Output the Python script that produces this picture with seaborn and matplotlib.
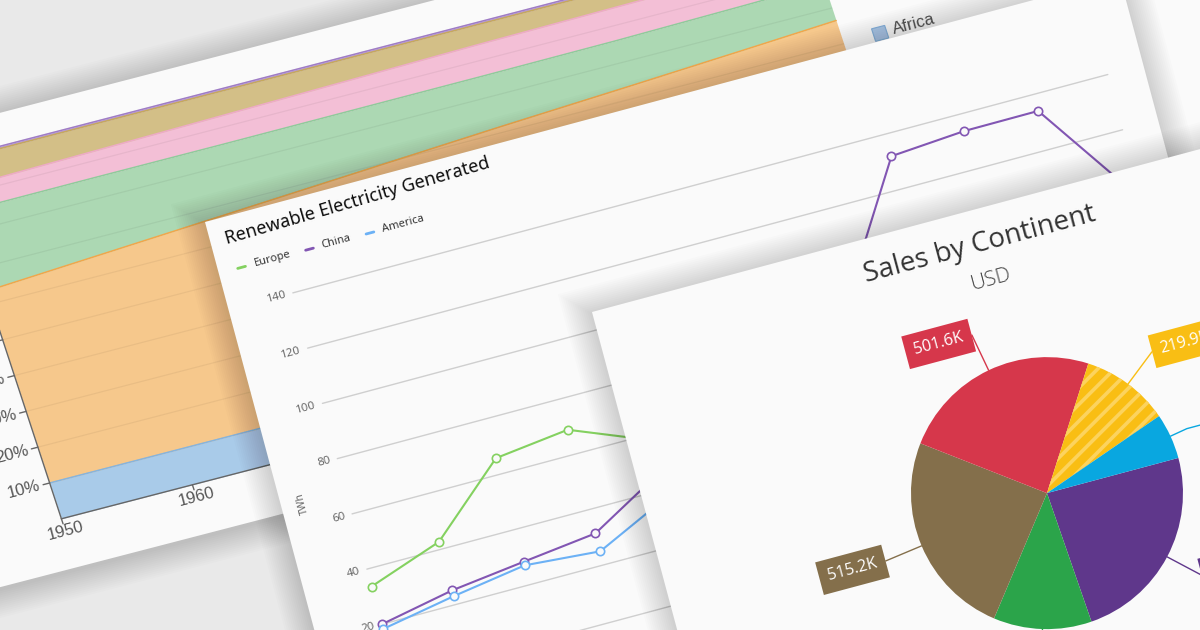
import numpy as np
import pandas as pd
import matplotlib
matplotlib.use("Agg")
import matplotlib.pyplot as plt
from matplotlib.transforms import Affine2D
from matplotlib.patches import Polygon
import seaborn as sns

# ---------------- data ----------------
# Panel 1: 100% stacked area (share, %)
AREA_YEARS = [1950, 1960, 1970, 1980, 1990, 2000, 2010, 2016]
AREA_NAMES = ["Africa", "Asia", "Europe", "North America", "South America", "Oceania"]
area_africa = [10.0, 10.0, 10.0, 10.0, 10.0, 10.0, 10.0, 10.0]
area_asia = [53.6, 55.6, 57.6, 59.6, 61.6, 63.4, 65.3, 66.5]
area_europe = [21.9, 20.0, 18.0, 16.1, 14.2, 12.6, 11.2, 10.4]
area_namerica = [6.3, 6.8, 7.4, 7.9, 8.4, 8.6, 8.5, 8.3]
area_samerica = [7.6, 7.0, 6.4, 5.8, 5.2, 4.8, 4.4, 4.2]
area_oceania = [0.6, 0.6, 0.6, 0.6, 0.6, 0.6, 0.6, 0.6]
AREA_COLORS = ["#a9cbe9", "#f6c88c", "#acd8b3", "#f3bfd6", "#d3bf87", "#b99bd3"]
AREA_EDGES = ["#86b4de", "#f2a64a", "#8fcb9b", "#eeaac8", "#c6a95c", "#9f7cc6"]
AREA_YTICKS = [10, 20, 30, 40, 50, 60, 70, 80, 90, 100]
AREA_XTICKS = [1950, 1960, 1970, 1980, 1990, 2000, 2010]

# Panel 2: renewable electricity (TWh)
LINE_PERIODS = list(range(12))
line_europe = [33.7, 42.7, 65.8, 68.9, 58.0, 62.0, 70.0, 75.0, 80.0, 84.0, 88.0, 90.0]
line_china = [20.0, 25.1, 28.3, 31.4, 46.0, 60.0, 75.0, 89.5, 132.0, 133.9, 134.0, 95.0]
line_america = [18.3, 23.0, 27.0, 24.9, 37.0, 48.0, 60.0, 72.0, 80.0, 85.0, 88.0, 82.0]
LINE_NAMES = ["Europe", "China", "America"]
LINE_COLORS = ["#84d160", "#8256b3", "#6cb1f5"]
LINE_YTICKS = [0, 20, 40, 60, 80, 100, 120, 140]

# Panel 3: sales by continent (K USD)
PIE_NAMES = ["Asia", "Oceania", "Africa", "Europe", "South America", "North America"]
PIE_VALUES = [499.7, 244.3, 515.2, 501.6, 219.9, 113.4]
PIE_COLORS = ["#5f378b", "#2ba44a", "#846f4b", "#d6374b", "#f9be14", "#09a7e0"]
PIE_LEADER_R = [175, 175, 175, 175, 176, 154]
PIE_ELBOW = [0, 0, 0, 0, 0, 30]

# ---------------- setup ----------------
sns.set_theme(style="white")
plt.rcParams["font.family"] = ["DejaVu Sans"]
plt.rcParams["hatch.linewidth"] = 2.6

BG = "#e9e9e9"
CARD = "#fafafa"
fig = plt.figure(figsize=(12, 6.3), dpi=100, facecolor=BG)
ax = fig.add_axes([0, 0, 1, 1])
ax.set_xlim(0, 1200)
ax.set_ylim(630, 0)
ax.set_autoscale_on(False)
ax.axis("off")
SCR = ax.transData


def card_affine(x0, y0, ang):
    t = np.deg2rad(ang)
    return Affine2D(np.array([[np.cos(t), np.sin(t), x0],
                              [-np.sin(t), np.cos(t), y0],
                              [0.0, 0.0, 1.0]]))


def expand_poly(pts, d):
    n = len(pts)
    area = 0.5 * np.sum(pts[:, 0] * np.roll(pts[:, 1], -1) - np.roll(pts[:, 0], -1) * pts[:, 1])
    sgn = 1.0 if area > 0 else -1.0
    out = []
    for k in range(n):
        pp, p, pn = pts[k - 1], pts[k], pts[(k + 1) % n]
        e1, e2 = p - pp, pn - p
        n1 = sgn * np.array([e1[1], -e1[0]]) / np.hypot(*e1)
        n2 = sgn * np.array([e2[1], -e2[0]]) / np.hypot(*e2)
        m = (n1 + n2) / (1.0 + n1 @ n2)
        out.append(p + d * m)
    return np.array(out)


def draw_card(local_pts, tf_local, z):
    pts = tf_local.transform(np.array(local_pts, dtype=float))
    for k in range(14, 0, -1):
        poly = expand_poly(pts, k * 2.0) + np.array([0, 2.0])
        ax.add_patch(Polygon(poly, closed=True, facecolor="black", edgecolor="none",
                             alpha=0.011, zorder=z - 0.5))
    ax.add_patch(Polygon(pts, closed=True, facecolor=CARD, edgecolor="none", zorder=z))


# ================= Panel 1 : stacked area =================
P1 = Affine2D().translate(-1950, 0) + Affine2D(np.array([[13.1, -1.175, 61.4],
                                                          [-3.4, -3.58, 518.8],
                                                          [0, 0, 1.0]]))
ANG1 = np.degrees(np.arctan2(3.4, 13.1))
T1 = P1 + SCR
draw_card([(1880, -13.5), (2045, -13.5), (2045, 108.6), (1880, 108.6)], P1, 2)

layers = [area_africa, area_asia, area_europe, area_namerica, area_samerica, area_oceania]
ax.stackplot(AREA_YEARS, *layers, colors=AREA_COLORS, transform=T1, zorder=3, linewidth=0)
cum = np.cumsum(np.array(layers), axis=0)
for p in AREA_YTICKS:
    ax.plot([AREA_YEARS[0], AREA_YEARS[-1]], [p, p], color="black", alpha=0.05, lw=0.9,
            transform=T1, zorder=3.5)
for k in range(len(layers)):
    ax.plot(AREA_YEARS, cum[k], color=AREA_EDGES[k], lw=1.1, transform=T1, zorder=4)

ax.plot([AREA_YEARS[0], AREA_YEARS[0]], [0, 100], color="#666666", lw=1.0, transform=T1, zorder=5)
ax.plot([AREA_YEARS[0], AREA_YEARS[-1]], [0, 0], color="#666666", lw=1.0, transform=T1, zorder=5)
for p in AREA_YTICKS:
    ax.plot([AREA_YEARS[0], AREA_YEARS[0] - 0.5], [p, p], color="#666666", lw=1.0,
            transform=T1, zorder=5)
    ax.text(AREA_YEARS[0] - 0.75, p, f"{p}%", transform=T1, ha="right", va="center",
            rotation=ANG1, rotation_mode="anchor", fontsize=12, color="#555555",
            family="Liberation Sans", zorder=5)
for yr in AREA_XTICKS:
    ax.plot([yr, yr], [0, -1.4], color="#666666", lw=1.0, transform=T1, zorder=5)
    ax.text(yr, -3.4, str(yr), transform=T1, ha="center", va="center",
            rotation=ANG1, rotation_mode="anchor", fontsize=12, color="#555555",
            family="Liberation Sans", zorder=5)
# legend (only first entry falls inside the picture)
ax.add_patch(Polygon([(2018.3, 68.5), (2019.3, 68.5), (2019.3, 72.0), (2018.3, 72.0)],
                     closed=True, facecolor=AREA_COLORS[0], edgecolor=AREA_EDGES[0], lw=0.8,
                     transform=T1, zorder=5))
ax.text(2019.8, 70.3, AREA_NAMES[0], transform=T1, ha="left", va="center", rotation=ANG1,
        rotation_mode="anchor", fontsize=12.2, color="#555555", family="Liberation Sans", zorder=5)

# ================= Panel 2 : line chart =================
ANG = 15.0
C2 = card_affine(205, 222, ANG)
D2 = Affine2D().scale(76.7, -2.86).translate(66.5, 491.6)
T2 = D2 + C2 + SCR
CARD2 = C2 + SCR
draw_card([(0, 0), (947, 0), (947, 800), (0, 800)], C2, 11)

for v in LINE_YTICKS:
    ax.plot([LINE_PERIODS[0], LINE_PERIODS[-1]], [v, v], color="#cfcfcf", lw=1.0,
            transform=T2, zorder=12)
    ax.text(LINE_PERIODS[0] - 0.09, v, str(v), transform=T2, ha="right", va="center",
            rotation=ANG, rotation_mode="anchor", fontsize=8.3, color="#666666",
            family="Noto Sans", zorder=14)

for name, vals, col in zip(LINE_NAMES, [line_europe, line_china, line_america], LINE_COLORS):
    sns.lineplot(x=LINE_PERIODS, y=vals, ax=ax, color=col, linewidth=1.5, marker="o",
                 markersize=6, markerfacecolor=CARD, markeredgecolor=col,
                 markeredgewidth=1.2, transform=T2, zorder=13, legend=False)

ax.text(15, 27, "Renewable Electricity Generated", transform=CARD2, ha="left", va="baseline",
        rotation=ANG + 1.2, rotation_mode="anchor", fontsize=13, color="#0d0d0d",
        family="Noto Sans", weight="medium", zorder=14)
for name, col, u in zip(LINE_NAMES, LINE_COLORS, [23.6, 93.9, 156.5]):
    ax.plot([u - 4, u + 4], [53.3, 53.3], color=col, lw=2, transform=CARD2, zorder=14)
    ax.text(u + 13, 53.3, name, transform=CARD2, ha="left", va="center", rotation=ANG,
            rotation_mode="anchor", fontsize=8, color="#333333", family="Noto Sans", zorder=14)
ax.text(22, 297, "TWh", transform=CARD2, ha="center", va="center", rotation=90 + ANG,
        rotation_mode="anchor", fontsize=7.5, color="#666666", family="Noto Sans", zorder=14)

# ================= Panel 3 : pie chart =================
C3 = card_affine(592, 312, ANG)
CARD3 = C3 + SCR
draw_card([(0, 0), (1100, 0), (1100, 700), (0, 700)], C3, 21)
PCX, PCY, PR = 392.6, 292.7, 136.0
PIE_T = Affine2D().scale(1, -1).translate(PCX, PCY) + C3 + SCR

wedges, _ = ax.pie(PIE_VALUES, colors=PIE_COLORS, startangle=0, counterclock=False,
                   radius=PR, center=(0, 0), wedgeprops=dict(linewidth=0), frame=True)
for w in wedges:
    w.set_transform(PIE_T)
    w.set_zorder(22)
wedges[4].set_hatch("//")
wedges[4].set_edgecolor("#fcd35e")
wedges[4].set_linewidth(0)
ax.set_aspect("auto")
ax.set_xlim(0, 1200)
ax.set_ylim(630, 0)
ax.axis("off")

frac = np.array(PIE_VALUES) / np.sum(PIE_VALUES)
cumf = np.concatenate([[0], np.cumsum(frac)])
for k, v in enumerate(PIE_VALUES):
    mid = np.deg2rad(-360 * (cumf[k] + frac[k] / 2))
    c, s = np.cos(mid), np.sin(mid)
    xs = [PR * c, PIE_LEADER_R[k] * c]
    ys = [PR * s, PIE_LEADER_R[k] * s]
    side = 1 if c >= 0 else -1
    if PIE_ELBOW[k]:
        xs.append(xs[-1] + side * PIE_ELBOW[k])
        ys.append(ys[-1])
    ax.plot(xs, ys, color=PIE_COLORS[k], lw=1.0, transform=PIE_T, zorder=23)
    ax.text(xs[-1] + side * 9.0, ys[-1], f"{v:.1f}K", transform=PIE_T,
            ha="left" if side > 0 else "right", va="center", rotation=ANG,
            rotation_mode="anchor", fontsize=11.6, color="white", family="Open Sans",
            bbox=dict(boxstyle="square,pad=0.55", fc=PIE_COLORS[k], ec="none"), zorder=24)

ax.text(PCX, 35, "Sales by Continent", transform=CARD3, ha="center", va="center",
        rotation=ANG, rotation_mode="anchor", fontsize=20, color="#333333",
        family="Open Sans", zorder=24)
ax.text(PCX + 1, 72.4, "USD", transform=CARD3, ha="center", va="center",
        rotation=ANG, rotation_mode="anchor", fontsize=15, color="#444444",
        family="Open Sans", weight="light", zorder=24)

fig.savefig("out.png", dpi=100, facecolor=BG)
